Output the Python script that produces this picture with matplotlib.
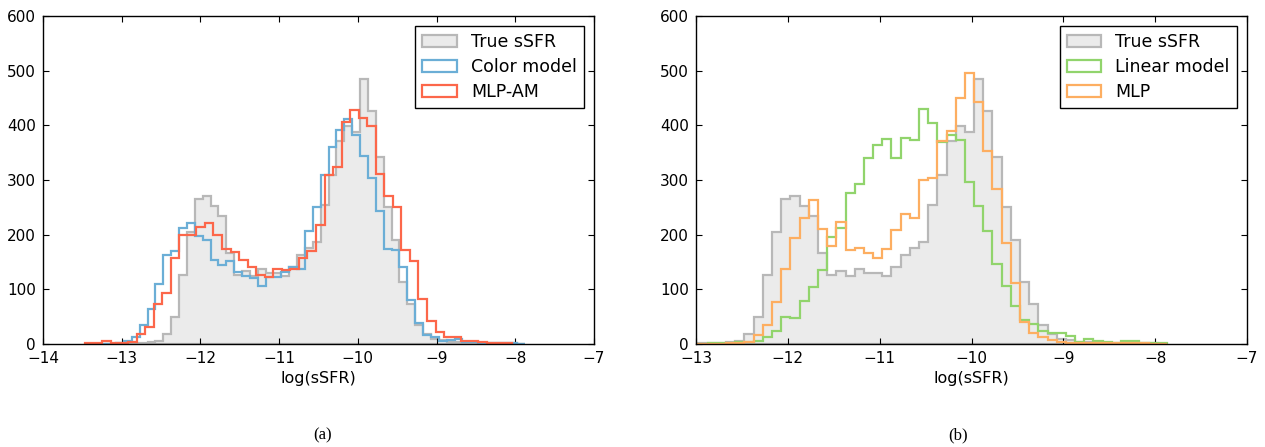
import numpy as np
import matplotlib
matplotlib.use('Agg')
import matplotlib.pyplot as plt

# counts per bin
# shared bins: 0.1 wide starting at -13.472
BIN_START = -13.472
BIN_W = 0.1
true_ssfr = [0, 0, 0, 0, 1, 1, 1, 2, 3, 5,
             18, 50, 126, 204, 265, 271, 252, 234, 167, 126,
             134, 125, 138, 130, 130, 124, 140, 162, 176, 187,
             254, 310, 371, 398, 388, 484, 427, 342, 251, 191,
             114, 73, 35, 18, 10, 7, 4, 3, 2, 2,
             1, 1, 1, 1, 1, 0]
color_model = [0, 0, 0, 0, 2, 5, 13, 35, 64, 110,
               163, 171, 213, 221, 197, 190, 153, 145, 152, 132,
               124, 120, 106, 122, 122, 132, 140, 137, 206, 251,
               309, 360, 391, 411, 382, 344, 303, 244, 173, 172,
               140, 80, 38, 16, 13, 6, 7, 10, 4, 3,
               2, 2, 1, 1, 1, 0]
linear_model = [0, 0, 0, 0, 0, 0, 2, 2, 2, 3,
                4, 6, 13, 23, 50, 47, 79, 104, 135, 195,
                212, 276, 293, 340, 364, 375, 341, 377, 373, 430,
                405, 370, 383, 374, 297, 253, 207, 146, 106, 70,
                44, 36, 23, 20, 21, 15, 4, 9, 6, 4,
                2, 5, 6, 2, 1, 1]
mlp = [0, 0, 0, 0, 0, 0, 0, 0, 1, 2,
       4, 16, 34, 76, 137, 193, 230, 264, 210, 179,
       223, 172, 176, 166, 157, 174, 209, 238, 230, 300,
       303, 371, 390, 450, 496, 443, 353, 283, 185, 112,
       41, 21, 12, 7, 4, 2, 2, 1, 1, 1,
       1, 1, 1, 1, 0, 0]

# MLP-AM has its own binning (50 bins)
AM_START = -13.4615
AM_W = 0.1085
mlp_am = [1, 1, 5, 2, 2, 3, 18, 32, 73, 93,
          157, 199, 199, 214, 221, 199, 173, 169, 154, 140,
          126, 123, 137, 135, 137, 158, 170, 218, 309, 323,
          407, 428, 413, 398, 311, 270, 251, 172, 151, 83,
          42, 22, 12, 13, 6, 6, 4, 2, 2, 2]

plt.rcParams.update({
    'font.family': 'DejaVu Sans',
    'font.size': 11,
    'xtick.direction': 'in',
    'ytick.direction': 'in',
    'xtick.top': True,
    'ytick.right': True,
    'xtick.major.size': 4,
    'ytick.major.size': 4,
    'xtick.major.pad': 5,
    'ytick.major.pad': 5,
    'axes.linewidth': 1.0,
})


def edges_for(start, width, n):
    return start + width * np.arange(n + 1)


def draw_hist(ax, counts, start, width, **kw):
    counts = np.asarray(counts, dtype=float)
    edges = edges_for(start, width, len(counts))
    centers = 0.5 * (edges[:-1] + edges[1:])
    ax.hist(centers, bins=edges, weights=counts, **kw)


LW = 1.6
gray_kw = dict(histtype='stepfilled', facecolor='#ebebeb', edgecolor='#b8b8b8', lw=LW)

fig = plt.figure(figsize=(12.65, 4.47), dpi=100)
ax1 = fig.add_axes([43 / 1265, 1 - 344 / 447, (594 - 43) / 1265, 328 / 447])
ax2 = fig.add_axes([696 / 1265, 1 - 344 / 447, (1247 - 696) / 1265, 328 / 447])

# (a)
draw_hist(ax1, true_ssfr, BIN_START, BIN_W, label='True sSFR', **gray_kw)
draw_hist(ax1, color_model, BIN_START, BIN_W, histtype='step', color='#6baed6', lw=LW, label='Color model')
draw_hist(ax1, mlp_am, AM_START, AM_W, histtype='step', color='#fc674a', lw=LW, label='MLP-AM')
ax1.set_xlim(-14, -7)

# (b)
draw_hist(ax2, true_ssfr, BIN_START, BIN_W, label='True sSFR', **gray_kw)
draw_hist(ax2, linear_model, BIN_START, BIN_W, histtype='step', color='#91d46c', lw=LW, label='Linear model')
draw_hist(ax2, mlp, BIN_START, BIN_W, histtype='step', color='#fdae61', lw=LW, label='MLP')
ax2.set_xlim(-13, -7)

for ax in (ax1, ax2):
    ax.set_ylim(0, 600)
    ax.set_yticks(np.arange(0, 601, 100))
    ax.set_xlabel('log(sSFR)', fontsize=11.5, labelpad=4)
    leg = ax.legend(loc='upper right', fontsize=12.5, fancybox=False, framealpha=1,
                    edgecolor='black', borderaxespad=0.6, handlelength=2.0,
                    labelspacing=0.4)
    leg.get_frame().set_linewidth(1.0)

fig.text(323 / 1265, 1 - 435 / 447, '(a)', ha='center', va='center',
         family='Liberation Serif', fontsize=12)
fig.text(958 / 1265, 1 - 435 / 447, '(b)', ha='center', va='center',
         family='Liberation Serif', fontsize=12)

fig.savefig('out.png', dpi=100)
